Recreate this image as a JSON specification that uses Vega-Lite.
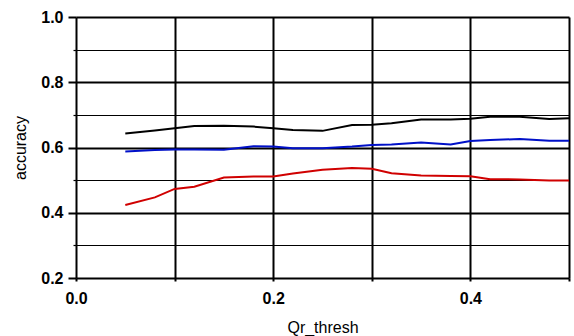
{
  "$schema": "https://vega.github.io/schema/vega-lite/v6.json",
  "autosize": "none",
  "width": 493,
  "height": 261,
  "padding": {"left": 76, "top": 17, "right": 5, "bottom": 58},
  "background": "white",
  "config": {
    "view": {"stroke": null},
    "font": "Liberation Sans",
    "axis": {
      "labelFont": "Liberation Sans",
      "titleFont": "Liberation Sans",
      "labelFontSize": 16,
      "labelFontWeight": "bold",
      "titleFontSize": 16,
      "titleFontWeight": "normal",
      "labelColor": "black",
      "titleColor": "black",
      "domain": false,
      "gridColor": "black",
      "gridOpacity": 1,
      "tickColor": "black"
    }
  },
  "data": {
    "values": [
      {"x": 0.05, "s": "a", "acc": 0.643},
      {"x": 0.08, "s": "a", "acc": 0.652},
      {"x": 0.10, "s": "a", "acc": 0.659},
      {"x": 0.12, "s": "a", "acc": 0.666},
      {"x": 0.15, "s": "a", "acc": 0.667},
      {"x": 0.18, "s": "a", "acc": 0.664},
      {"x": 0.20, "s": "a", "acc": 0.659},
      {"x": 0.22, "s": "a", "acc": 0.654},
      {"x": 0.25, "s": "a", "acc": 0.651},
      {"x": 0.28, "s": "a", "acc": 0.669},
      {"x": 0.30, "s": "a", "acc": 0.670},
      {"x": 0.32, "s": "a", "acc": 0.674},
      {"x": 0.35, "s": "a", "acc": 0.686},
      {"x": 0.38, "s": "a", "acc": 0.686},
      {"x": 0.40, "s": "a", "acc": 0.688},
      {"x": 0.42, "s": "a", "acc": 0.694},
      {"x": 0.45, "s": "a", "acc": 0.694},
      {"x": 0.48, "s": "a", "acc": 0.687},
      {"x": 0.50, "s": "a", "acc": 0.690},
      {"x": 0.05, "s": "b", "acc": 0.588},
      {"x": 0.08, "s": "b", "acc": 0.592},
      {"x": 0.10, "s": "b", "acc": 0.594},
      {"x": 0.12, "s": "b", "acc": 0.594},
      {"x": 0.15, "s": "b", "acc": 0.593},
      {"x": 0.18, "s": "b", "acc": 0.604},
      {"x": 0.20, "s": "b", "acc": 0.603},
      {"x": 0.22, "s": "b", "acc": 0.598},
      {"x": 0.25, "s": "b", "acc": 0.598},
      {"x": 0.28, "s": "b", "acc": 0.603},
      {"x": 0.30, "s": "b", "acc": 0.608},
      {"x": 0.32, "s": "b", "acc": 0.609},
      {"x": 0.35, "s": "b", "acc": 0.615},
      {"x": 0.38, "s": "b", "acc": 0.609},
      {"x": 0.40, "s": "b", "acc": 0.620},
      {"x": 0.42, "s": "b", "acc": 0.623},
      {"x": 0.45, "s": "b", "acc": 0.626},
      {"x": 0.48, "s": "b", "acc": 0.621},
      {"x": 0.50, "s": "b", "acc": 0.621},
      {"x": 0.05, "s": "c", "acc": 0.424},
      {"x": 0.08, "s": "c", "acc": 0.447},
      {"x": 0.10, "s": "c", "acc": 0.473},
      {"x": 0.12, "s": "c", "acc": 0.480},
      {"x": 0.15, "s": "c", "acc": 0.508},
      {"x": 0.18, "s": "c", "acc": 0.511},
      {"x": 0.20, "s": "c", "acc": 0.511},
      {"x": 0.22, "s": "c", "acc": 0.520},
      {"x": 0.25, "s": "c", "acc": 0.532},
      {"x": 0.28, "s": "c", "acc": 0.537},
      {"x": 0.30, "s": "c", "acc": 0.535},
      {"x": 0.32, "s": "c", "acc": 0.521},
      {"x": 0.35, "s": "c", "acc": 0.514},
      {"x": 0.38, "s": "c", "acc": 0.513},
      {"x": 0.40, "s": "c", "acc": 0.512},
      {"x": 0.42, "s": "c", "acc": 0.503},
      {"x": 0.45, "s": "c", "acc": 0.502},
      {"x": 0.48, "s": "c", "acc": 0.499},
      {"x": 0.50, "s": "c", "acc": 0.499}
    ]
  },
  "mark": {"type": "line", "strokeWidth": 2, "clip": true},
  "encoding": {
    "x": {
      "field": "x",
      "type": "quantitative",
      "scale": {"domain": [0, 0.5], "nice": false, "zero": false},
      "axis": {
        "title": "Qr_thresh",
        "values": [0, 0.1, 0.2, 0.3, 0.4, 0.5],
        "labelExpr": "round(datum.value*10) % 2 == 0 && datum.value < 0.45 ? format(datum.value, '.1f') : ''",
        "labelPadding": 9,
        "labelFlush": false,
        "tickSize": 3,
        "tickWidth": 2,
        "gridWidth": 2,
        "titlePadding": 13
      }
    },
    "y": {
      "field": "acc",
      "type": "quantitative",
      "scale": {"domain": [0.2, 1.0], "nice": false, "zero": false},
      "axis": {
        "title": "accuracy",
        "values": [0.2, 0.3, 0.4, 0.5, 0.6, 0.7, 0.8, 0.9, 1.0],
        "labelExpr": "round(datum.value*10) % 2 == 0 ? format(datum.value, '.1f') : ''",
        "labelPadding": 5,
        "labelFlush": false,
        "tickSize": {"condition": {"test": "round(datum.value*10) % 2 == 0", "value": 8}, "value": 3},
        "tickWidth": {"condition": {"test": "round(datum.value*10) % 2 == 0", "value": 2}, "value": 1.2},
        "gridWidth": {"condition": {"test": "round(datum.value*10) % 2 == 0", "value": 2}, "value": 1.2},
        "titlePadding": 12
      }
    },
    "color": {
      "field": "s",
      "type": "nominal",
      "scale": {"domain": ["a", "b", "c"], "range": ["#000000", "#0010c8", "#d00000"]},
      "legend": null
    }
  }
}
